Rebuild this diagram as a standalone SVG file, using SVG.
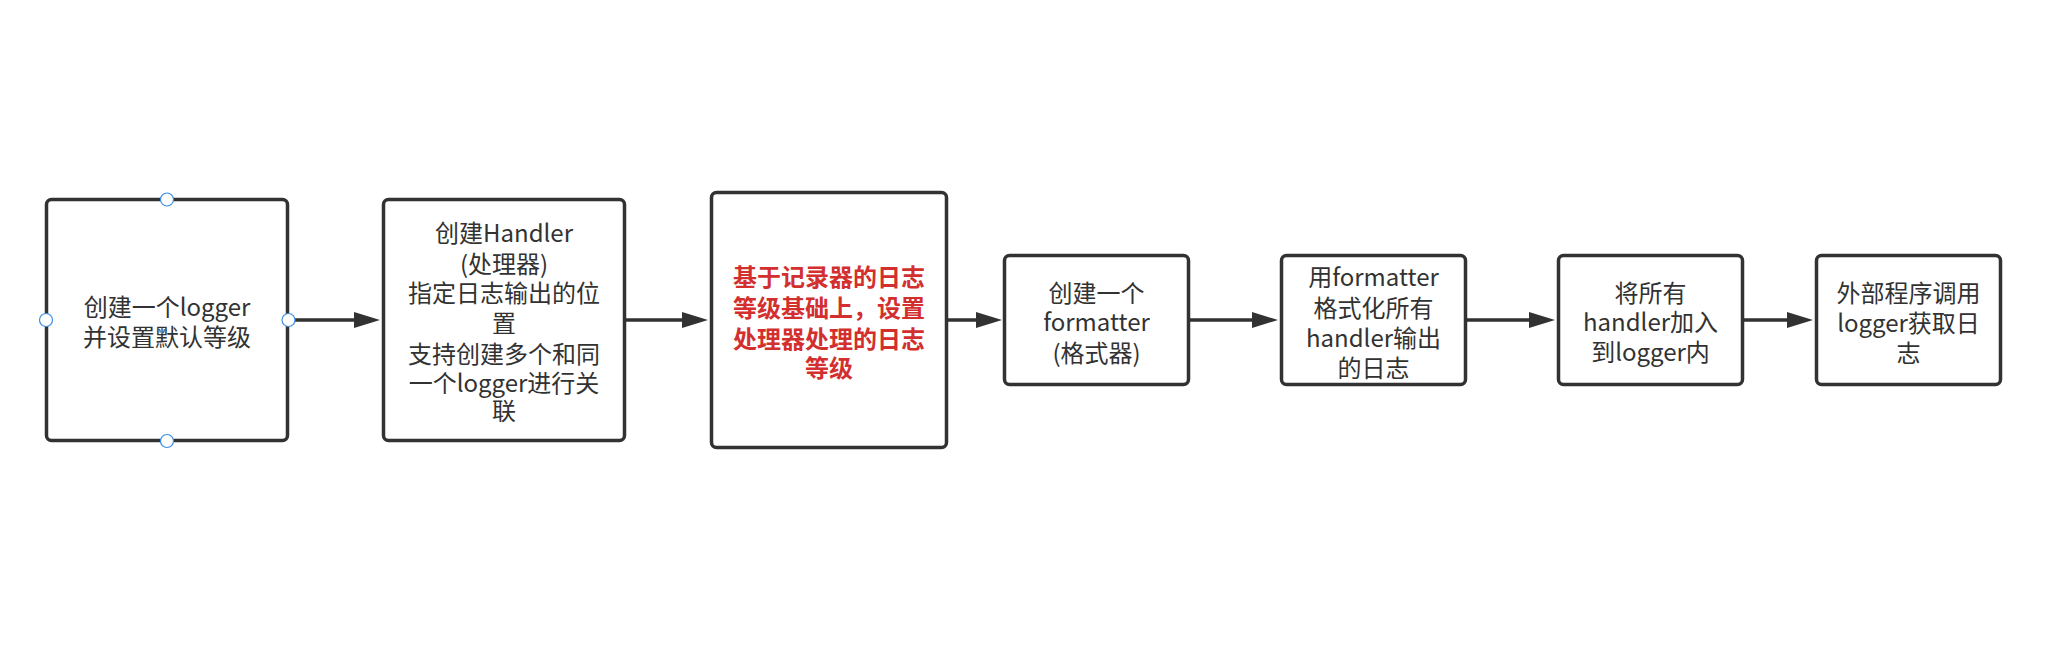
<svg xmlns="http://www.w3.org/2000/svg" width="2048" height="646" viewBox="0 0 2048 646">
<defs>
<style>
.box{fill:#ffffff;stroke:#323232;stroke-width:3.5}
.t{font-family:"Microsoft YaHei","Noto Sans CJK SC","Noto Sans",sans-serif;font-size:24px;fill:#323232;text-anchor:middle}
.red{fill:#d32f2f;font-weight:bold}
.conn{stroke:#323232;stroke-width:3.5;fill:none}
.hdl{fill:#ffffff;stroke:#3a8ee6;stroke-width:1.2}
</style>
<marker id="arr" markerUnits="userSpaceOnUse" markerWidth="28" markerHeight="18" refX="6" refY="8" orient="auto">
<path d="M0,0 L26,8 L0,16 z" fill="#323232"/>
</marker>
</defs>
<rect width="2048" height="646" fill="#ffffff"/>
<g id="connectors">
<line class="conn" x1="289" y1="320" x2="360" y2="320" marker-end="url(#arr)"/>
<line class="conn" x1="626" y1="320" x2="688" y2="320" marker-end="url(#arr)"/>
<line class="conn" x1="948" y1="320" x2="982" y2="320" marker-end="url(#arr)"/>
<line class="conn" x1="1190" y1="320" x2="1258" y2="320" marker-end="url(#arr)"/>
<line class="conn" x1="1467" y1="320" x2="1535" y2="320" marker-end="url(#arr)"/>
<line class="conn" x1="1744" y1="320" x2="1793" y2="320" marker-end="url(#arr)"/>
</g>
<g id="node1">
<rect class="box" x="46.5" y="199.5" width="241" height="241" rx="5"/>
<text class="t" x="167" y="316">创建一个logger</text>
<text class="t" x="167" y="346">并设置默认等级</text>
<circle class="hdl" cx="167" cy="199.5" r="6.5"/>
<circle class="hdl" cx="46" cy="320" r="6.5"/>
<circle class="hdl" cx="288.5" cy="320" r="6.5"/>
<circle class="hdl" cx="167" cy="441" r="6.5"/>
</g>
<g id="node2">
<rect class="box" x="383.5" y="199.5" width="241" height="241" rx="5"/>
<text class="t" x="504" y="242">创建Handler</text>
<text class="t" x="504" y="273">(处理器)</text>
<text class="t" x="504" y="302">指定日志输出的位</text>
<text class="t" x="504" y="332">置</text>
<text class="t" x="504" y="363">支持创建多个和同</text>
<text class="t" x="504" y="392">一个logger进行关</text>
<text class="t" x="504" y="420">联</text>
</g>
<g id="node3">
<rect class="box" x="711.5" y="192.5" width="235" height="255" rx="5"/>
<text class="t red" x="829" y="286">基于记录器的日志</text>
<text class="t red" x="829" y="317">等级基础上，设置</text>
<text class="t red" x="829" y="348">处理器处理的日志</text>
<text class="t red" x="829" y="377">等级</text>
</g>
<g id="node4">
<rect class="box" x="1004.5" y="255.5" width="184" height="129" rx="5"/>
<text class="t" x="1096.5" y="302">创建一个</text>
<text class="t" x="1096.5" y="331">formatter</text>
<text class="t" x="1096.5" y="362">(格式器)</text>
</g>
<g id="node5">
<rect class="box" x="1281.5" y="255.5" width="184" height="129" rx="5"/>
<text class="t" x="1373.5" y="286">用formatter</text>
<text class="t" x="1373.5" y="317">格式化所有</text>
<text class="t" x="1373.5" y="347">handler输出</text>
<text class="t" x="1373.5" y="377">的日志</text>
</g>
<g id="node6">
<rect class="box" x="1558.5" y="255.5" width="184" height="129" rx="5"/>
<text class="t" x="1650.5" y="302">将所有</text>
<text class="t" x="1650.5" y="331">handler加入</text>
<text class="t" x="1650.5" y="361">到logger内</text>
</g>
<g id="node7">
<rect class="box" x="1816.5" y="255.5" width="184" height="129" rx="5"/>
<text class="t" x="1908.5" y="302">外部程序调用</text>
<text class="t" x="1908.5" y="332">logger获取日</text>
<text class="t" x="1908.5" y="362">志</text>
</g>
</svg>
